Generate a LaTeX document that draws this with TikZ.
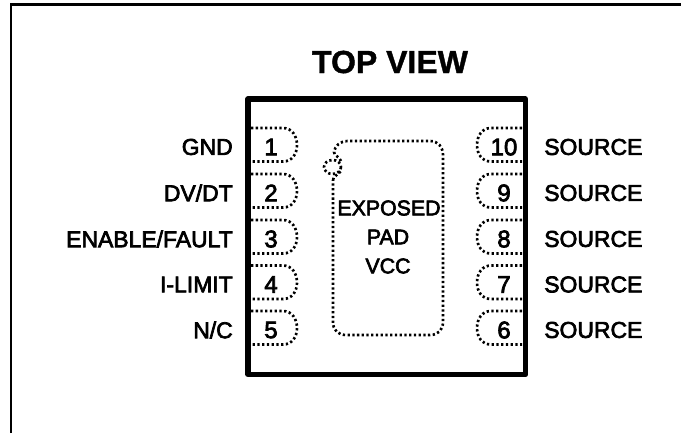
\documentclass[tikz,border=0pt]{standalone}
\usepackage{fontspec}
\setmainfont{Liberation Sans}
\newfontfamily\fkb[FakeBold=3]{Liberation Sans}
\newfontfamily\ttlb[FakeBold=1.2]{Liberation Sans Bold}
\begin{document}
\begin{tikzpicture}[x=0.75pt,y=-0.75pt,
  frameline/.style={line width=2pt},
  chipline/.style={line width=4.1pt,line join=round},
  dotline/.style={line width=2pt,dash pattern=on 1.7pt off 1.85pt},
  pinlabel/.style={font=\fkb\fontsize{17.2}{20}\selectfont,inner sep=0pt},
  num/.style={font=\fkb\fontsize{18}{20}\selectfont,inner sep=0pt,anchor=center},
  padtext/.style={font=\fkb\fontsize{16}{20}\selectfont,inner sep=0pt,anchor=center}]
\useasboundingbox (0,0) rectangle (681,433);
\draw[frameline] (11,433) -- (11,4.5) -- (681,4.5);
\node[font=\ttlb\fontsize{24}{26}\selectfont,inner sep=0pt] (title) at (390,62) {TOP VIEW};
\draw[chipline] (248,99) rectangle (525.5,374.5);
% pads
\foreach \yy/\n/\m/\ltext/\rtext in {128/1/10/GND/SOURCE,174/2/9/DV\slash DT/SOURCE,220/3/8/ENABLE\slash FAULT/SOURCE,265.5/4/7/I-LIMIT/SOURCE,311/5/6/N\slash C/SOURCE}{
  \draw[dotline] (251,\yy) -- (283,\yy) .. controls (292,\yy) and (297,\yy+8) .. (297,\yy+17) .. controls (297,\yy+26) and (292,\yy+33.5) .. (283,\yy+33.5) -- (251,\yy+33.5);
  \draw[dotline] (522,\yy) -- (491,\yy) .. controls (482,\yy) and (477,\yy+8) .. (477,\yy+17) .. controls (477,\yy+26) and (482,\yy+33.5) .. (491,\yy+33.5) -- (522,\yy+33.5);
  \node[num] (pl\n) at (271,\yy+19) {\n};
  \node[num] (pr\m) at (504,\yy+19) {\m};
  \node[pinlabel,anchor=east] (ll\n) at (233,\yy+19) {\ltext};
  \node[pinlabel,anchor=west] (lr\m) at (544,\yy+19) {\rtext};
}
% exposed pad
\draw[dotline] (333,180) .. controls (333,176) and (338,175) .. (341,171);
\draw[dotline] (341,161) .. controls (339,156) and (334,156) .. (334,152) .. controls (335,146) and (340,141) .. (348,141) -- (430,141) .. controls (438,141) and (443,147) .. (443,155) -- (443,322) .. controls (443,330) and (438,335) .. (430,335) -- (346,335) .. controls (338,335) and (333,330) .. (333,322) -- (333,180);
\draw[dotline] (332.5,167) ellipse (8.5 and 7);
\node[padtext] (t1) at (389,208) {EXPOSED};
\node[padtext] (t2) at (388,237) {PAD};
\node[padtext] (t3) at (388,266) {VCC};
\end{tikzpicture}
\end{document}
